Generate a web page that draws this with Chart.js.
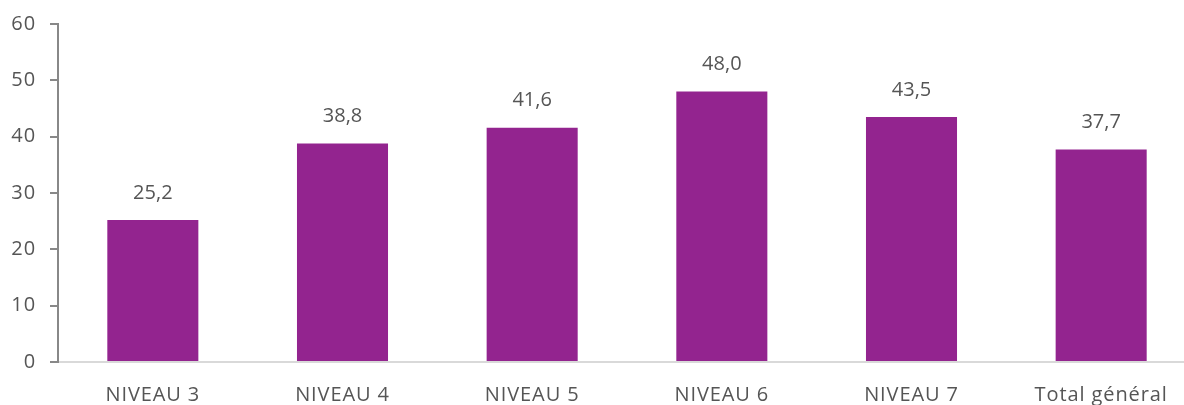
<!DOCTYPE html>
<html><head><meta charset="utf-8">
<script src="https://cdn.jsdelivr.net/npm/chart.js@4/dist/chart.umd.min.js"></script>
<style>html,body{margin:0;padding:0;background:#fff;overflow:hidden;width:1184px;height:405px}#wrap{width:1196px;height:405px}</style>
</head><body><div id="wrap"><canvas id="c" width="1196" height="405"></canvas></div>
<script>
const categories = ["NIVEAU 3","NIVEAU 4","NIVEAU 5","NIVEAU 6","NIVEAU 7","Total général"];
const values = [25.2, 38.8, 41.6, 48.0, 43.5, 37.7];
const yTicks = [0,10,20,30,40,50,60];
const FONT = "'Open Sans', sans-serif";
const spacingPlugin = {
  id:'spacing',
  beforeDraw(chart){ chart.ctx.letterSpacing = '0.9px'; },
  beforeDatasetsDraw(chart){ chart.ctx.letterSpacing = '0px'; },
  afterDraw(chart){ chart.ctx.letterSpacing = '0px'; }
};
const labelPlugin = {
  id:'vals',
  afterDatasetsDraw(chart){
    const ctx = chart.ctx;
    const meta = chart.getDatasetMeta(0);
    ctx.save();
    ctx.letterSpacing = '0px';
    ctx.font = "20px " + FONT;
    ctx.fillStyle = "#555";
    ctx.textAlign = "center";
    ctx.textBaseline = "middle";
    meta.data.forEach((b,i)=>{
      ctx.fillText(values[i].toFixed(1).replace('.',','), b.x, b.y - 27);
    });
    ctx.restore();
  }
};
new Chart(document.getElementById('c'), {
  type:'bar',
  data:{labels:categories, datasets:[{data:values, backgroundColor:'#93248F', barPercentage:0.48, categoryPercentage:1}]},
  options:{
    responsive:false, animation:false,
    layout:{padding:{top:23,left:0,right:0,bottom:0}},
    plugins:{legend:{display:false}, tooltip:{enabled:false}},
    scales:{
      x:{grid:{display:false, drawTicks:false}, border:{color:'#d9d9d9', width:2},
         ticks:{color:'#555', font:{family:FONT, size:20}, padding:21, maxRotation:0},
         afterFit(s){ s.height = 43; }},
      y:{min:0, max:60, afterBuildTicks(s){ s.ticks = yTicks.map(v=>({value:v})); },
         grid:{drawOnChartArea:false, drawTicks:true, tickLength:8, color:'#888', lineWidth:2},
         border:{color:'#888', width:2},
         ticks:{color:'#555', font:{family:FONT, size:20, lineHeight:1}, padding:14},
         afterFit(s){ s.width = 58; }}
    }
  },
  plugins:[spacingPlugin, labelPlugin]
});
</script></body></html>
